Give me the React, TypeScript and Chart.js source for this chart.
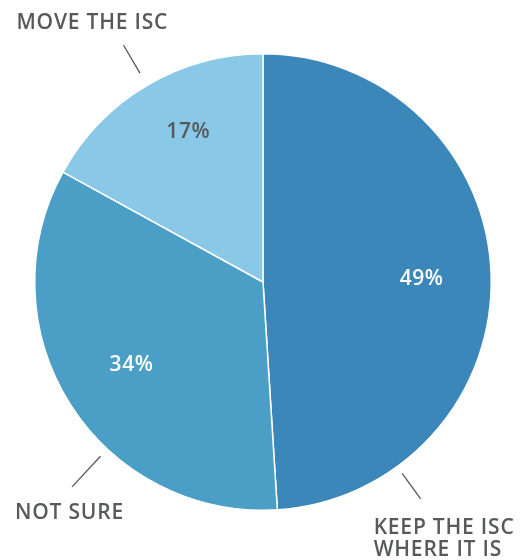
import React, { useEffect, useRef } from "react";
import { Chart, registerables } from "chart.js";

Chart.register(...registerables);

const categories = ["KEEP THE ISC\nWHERE IT IS", "NOT SURE", "MOVE THE ISC"];
const values = [49, 34, 17];
const colors = ["#3b87b9", "#4b9ec5", "#8ac8e7"];
const pctColors = ["#ffffff", "#ffffff", "#58595b"];
const pctRadius = [0.695, 0.682, 0.736];
const pctAngleShift = [0.7, 0, 4.2];
// leader line angle (deg clockwise from top), inner/outer radius factors, text offset from outer end
const leaderAngle = [144, 223, 329.5];
const leaderR1 = [1.037, 1.044, 1.062];
const leaderR2 = [1.175, 1.227, 1.205];
const textOffset = [
  { dx: -47, dy: 35 },
  { dx: -57, dy: 32 },
  { dx: -107, dy: -16 },
];

const labelPlugin = {
  id: "pieLabels",
  afterDatasetsDraw(chart: any) {
    const ctx = chart.ctx;
    const meta = chart.getDatasetMeta(0);
    ctx.save();
    meta.data.forEach((arc: any, i: number) => {
      const { x, y, startAngle, endAngle, outerRadius } = arc.getProps(
        ["x", "y", "startAngle", "endAngle", "outerRadius"],
        true
      );
      const mid = (startAngle + endAngle) / 2 + (pctAngleShift[i] * Math.PI) / 180;
      const pr = outerRadius * pctRadius[i];
      ctx.fillStyle = pctColors[i];
      ctx.font = "600 21px 'Open Sans'";
      (ctx as any).letterSpacing = "0.6px";
      ctx.textAlign = "center";
      ctx.textBaseline = "middle";
      ctx.fillText(values[i] + "%", x + pr * Math.cos(mid), y + pr * Math.sin(mid));

      const a = ((leaderAngle[i] - 90) * Math.PI) / 180;
      const r1 = outerRadius * leaderR1[i];
      const r2 = outerRadius * leaderR2[i];
      const x2 = x + r2 * Math.cos(a);
      const y2 = y + r2 * Math.sin(a);
      ctx.strokeStyle = "#58595b";
      ctx.lineWidth = 1.3;
      ctx.beginPath();
      ctx.moveTo(x + r1 * Math.cos(a), y + r1 * Math.sin(a));
      ctx.lineTo(x2, y2);
      ctx.stroke();

      const off = textOffset[i];
      ctx.fillStyle = "#58595b";
      ctx.font = "600 21px 'Open Sans'";
      (ctx as any).letterSpacing = "0.8px";
      ctx.textAlign = "left";
      ctx.textBaseline = "alphabetic";
      categories[i].split("\n").forEach((line, j) => {
        ctx.fillText(line, x2 + off.dx, y2 + off.dy + j * 22);
      });
    });
    ctx.restore();
  },
};

export default function App() {
  const ref = useRef<HTMLCanvasElement>(null);
  useEffect(() => {
    const chart = new Chart(ref.current!, {
      type: "pie",
      data: {
        labels: categories,
        datasets: [
          {
            data: values,
            backgroundColor: colors,
            borderColor: "#ffffff",
            borderWidth: 1.5,
          },
        ],
      },
      options: {
        animation: false,
        responsive: false,
        layout: { padding: { left: 34, right: 36, top: 53, bottom: 49 } },
        plugins: { legend: { display: false }, tooltip: { enabled: false } },
      },
      plugins: [labelPlugin],
    });
    return () => chart.destroy();
  }, []);
  return (
    <div style={{ position: "fixed", left: 0, top: 0, width: 528, height: 560, background: "#fff" }}>
      <canvas ref={ref} width={528} height={560} />
    </div>
  );
}
